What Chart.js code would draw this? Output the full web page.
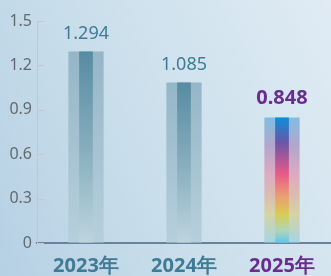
<!DOCTYPE html>
<html lang="zh">
<head>
    <meta charset="UTF-8">
    <title>2023-2025</title>
    <script src="https://cdn.jsdelivr.net/npm/chart.js"></script>
    <style>
        html, body { margin: 0; padding: 0; }
        body {
            width: 331px;
            height: 276px;
            overflow: hidden;
            background: linear-gradient(65deg, #b6d0e4 0%, #cadfeb 45%, #e0ebf4 100%);
        }
        #wrap { position: relative; width: 331px; height: 276px; }
    </style>
</head>
<body>
    <div id="wrap"><canvas id="grafico"></canvas></div>

    <script>
        // dados
        const categorias = ['2023年', '2024年', '2025年'];
        const valores = [1.294, 1.085, 0.848];
        const rotulosValor = ['1.294', '1.085', '0.848'];
        const ticksY = [0, 0.3, 0.6, 0.9, 1.2, 1.5];

        // cores (estilo)
        const roxo = '#6a2d8f';
        const azulTexto = '#3f7b95';
        const destaque = 2;

        const paradasInterna = [
            [[0, '#568ca1'], [0.5, '#86adbd'], [1, '#bdd4de']],
            [[0, '#568ca1'], [0.5, '#86adbd'], [1, '#bdd4de']],
            [[0, '#0a8fd9'], [0.2, '#6b55a6'], [0.45, '#e85a88'], [0.62, '#ec9c74'], [0.77, '#d8cc52'], [0.9, '#b0d6b8'], [1, '#5cc6ec']]
        ];
        const paradasExterna = [
            [[0, '#95b6c7'], [1, '#b6cfdc']],
            [[0, '#95b6c7'], [1, '#b6cfdc']],
            [[0, '#80bde2'], [0.22, '#b2a6cc'], [0.45, '#dcaac2'], [0.62, '#dcbcb0'], [0.77, '#d4d4a4'], [1, '#a6d4e6']]
        ];

        function gradiente(paradas) {
            return function (ctx) {
                const chart = ctx.chart;
                if (!chart.chartArea || ctx.dataIndex === undefined) return 'transparent';
                const y = chart.scales.y;
                const topo = y.getPixelForValue(valores[ctx.dataIndex]);
                const base = y.getPixelForValue(0);
                const g = chart.ctx.createLinearGradient(0, topo, 0, base);
                paradas[ctx.dataIndex].forEach(p => g.addColorStop(p[0], p[1]));
                return g;
            };
        }

        // marcas curtas do eixo y, para dentro
        const marcasY = {
            id: 'marcasY',
            afterDraw(chart) {
                const c = chart.ctx;
                const y = chart.scales.y;
                c.save();
                c.strokeStyle = '#c4c8cc';
                c.lineWidth = 1;
                ticksY.forEach(v => {
                    const py = Math.round(y.getPixelForValue(v)) + 0.5;
                    c.beginPath();
                    c.moveTo(y.right, py);
                    c.lineTo(y.right + 7, py);
                    c.stroke();
                });
                c.restore();
            }
        };

        // rótulos de valor acima das barras
        const rotulos = {
            id: 'rotulos',
            afterDatasetsDraw(chart) {
                const c = chart.ctx;
                const meta = chart.getDatasetMeta(1);
                c.save();
                c.textAlign = 'center';
                c.textBaseline = 'bottom';
                meta.data.forEach((bar, i) => {
                    if (i === destaque) {
                        c.font = 'bold 20px "Noto Sans"';
                        c.fillStyle = roxo;
                    } else {
                        c.font = '18px "Noto Sans"';
                        c.fillStyle = azulTexto;
                    }
                    c.fillText(rotulosValor[i], bar.x, bar.y - 9);
                });
                c.restore();
            }
        };

        const ctx = document.getElementById('grafico').getContext('2d');
        new Chart(ctx, {
            type: 'bar',
            data: {
                labels: categorias,
                datasets: [
                    {
                        data: valores,
                        order: 0,
                        barPercentage: 0.14,
                        categoryPercentage: 1,
                        backgroundColor: gradiente(paradasInterna)
                    },
                    {
                        data: valores,
                        order: 1,
                        barPercentage: 0.36,
                        categoryPercentage: 1,
                        backgroundColor: gradiente(paradasExterna)
                    }
                ]
            },
            options: {
                responsive: true,
                maintainAspectRatio: false,
                animation: false,
                layout: { padding: { top: 21, right: 0, left: 0, bottom: 0 } },
                plugins: { legend: { display: false }, tooltip: { enabled: false } },
                scales: {
                    x: {
                        stacked: true,
                        grid: { display: false },
                        border: { color: '#6883a2', width: 2 },
                        ticks: {
                            padding: 3,
                            color: ctx => ctx.index === destaque ? roxo : azulTexto,
                            font: { family: 'Noto Sans', size: 20, weight: 'bold' }
                        },
                        afterFit(scale) { scale.height = 33; }
                    },
                    y: {
                        min: 0,
                        max: 1.5,
                        grid: { drawOnChartArea: false, drawTicks: false },
                        border: { color: '#c4c8cc', width: 1 },
                        afterBuildTicks(scale) { scale.ticks = ticksY.map(v => ({ value: v })); },
                        ticks: {
                            padding: 5,
                            color: '#626a70',
                            font: { family: 'Noto Sans', size: 16 },
                            callback: v => String(v)
                        },
                        afterFit(scale) { scale.width = 37; }
                    }
                }
            },
            plugins: [marcasY, rotulos]
        });
    </script>
</body>
</html>
